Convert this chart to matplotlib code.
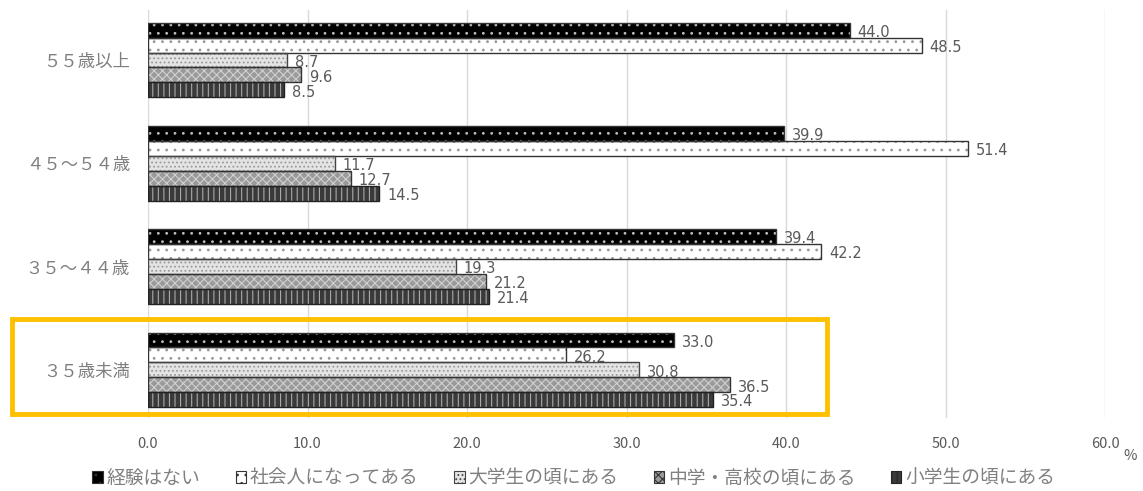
import matplotlib
matplotlib.use("Agg")
import matplotlib.pyplot as plt
from matplotlib.patches import Patch, Rectangle

plt.rcParams['font.family'] = ['Noto Sans CJK JP', 'DejaVu Sans']
plt.rcParams['hatch.linewidth'] = 0.8

groups = ["３５歳未満", "３５～４４歳", "４５～５４歳", "５５歳以上"]
series = ["経験はない", "社会人になってある", "大学生の頃にある", "中学・高校の頃にある", "小学生の頃にある"]
values = {
    "経験はない":         [33.0, 39.4, 39.9, 44.0],
    "社会人になってある":   [26.2, 42.2, 51.4, 48.5],
    "大学生の頃にある":     [30.8, 19.3, 11.7, 8.7],
    "中学・高校の頃にある": [36.5, 21.2, 12.7, 9.6],
    "小学生の頃にある":     [35.4, 21.4, 14.5, 8.5],
}
xticks = [0, 10, 20, 30, 40, 50, 60]

# face colour, hatch, hatch colour, outline colour
styles = [
    ("#000000", "..", "#bbbbbb", "#333333"),
    ("#ffffff", "..", "#999999", "#333333"),
    ("#e4e4e4", "....", "#9a9a9a", "#444444"),
    ("#9a9a9a", "xxxx", "#d0d0d0", "#333333"),
    ("#3a3a3a", "|||", "#aaaaaa", "#222222"),
]

fig = plt.figure(figsize=(11.43, 4.91), dpi=100)
ax = fig.add_axes([148 / 1143, 1 - 418 / 491, 957 / 1143, 408 / 491])

bar_h = 0.145
label_color = "#595959"
for i, name in enumerate(series):
    face, hatch, hcol, ecol = styles[i]
    for g, v in enumerate(values[name]):
        y = g + (2 - i) * bar_h
        ax.barh(y, v, height=bar_h, color=face, hatch=hatch, edgecolor=hcol,
                linewidth=0, zorder=2)
        ax.barh(y, v, height=bar_h, fill=False, edgecolor=ecol, linewidth=1.0,
                zorder=3)
        ax.text(v + 0.5, y - 0.02, f"{v:.1f}", va="center", ha="left",
                fontsize=10.5, color=label_color, family="DejaVu Sans")

ax.set_xlim(0, 60)
ax.set_ylim(-0.465, 3.484)
ax.set_xticks(xticks)
ax.set_xticklabels([f"{t:.1f}" for t in xticks], color=label_color, fontsize=10.5)
ax.set_yticks(range(len(groups)))
ax.set_yticklabels(groups, color="#7f7f7f", fontsize=12.5)
ax.tick_params(length=0, pad=14)
ax.tick_params(axis="y", pad=13)
ax.grid(axis="x", color="#d9d9d9", linewidth=1, zorder=0)
for s in ax.spines.values():
    s.set_visible(False)

fig.text(1130 / 1143, 1 - 456 / 491, "%", color=label_color, fontsize=10.5,
         ha="center", va="center")

handles = [Patch(facecolor=st[0], hatch=st[1], edgecolor=st[3], linewidth=0.8)
           for st in styles]
fig.legend(handles, series, loc="center", bbox_to_anchor=(0.502, 1 - 478 / 491),
           ncol=5, frameon=False, fontsize=13.5, handlelength=0.55,
           handleheight=0.55, handletextpad=0.2, columnspacing=1.9,
           labelcolor="#808080")

# highlight box round the youngest group
fig.patches.append(Rectangle((12 / 1143, 1 - 414 / 491), 815 / 1143, 95 / 491,
                             transform=fig.transFigure, fill=False,
                             edgecolor="#ffc000", linewidth=3.5))

fig.savefig("out.png", dpi=100, facecolor="white")
